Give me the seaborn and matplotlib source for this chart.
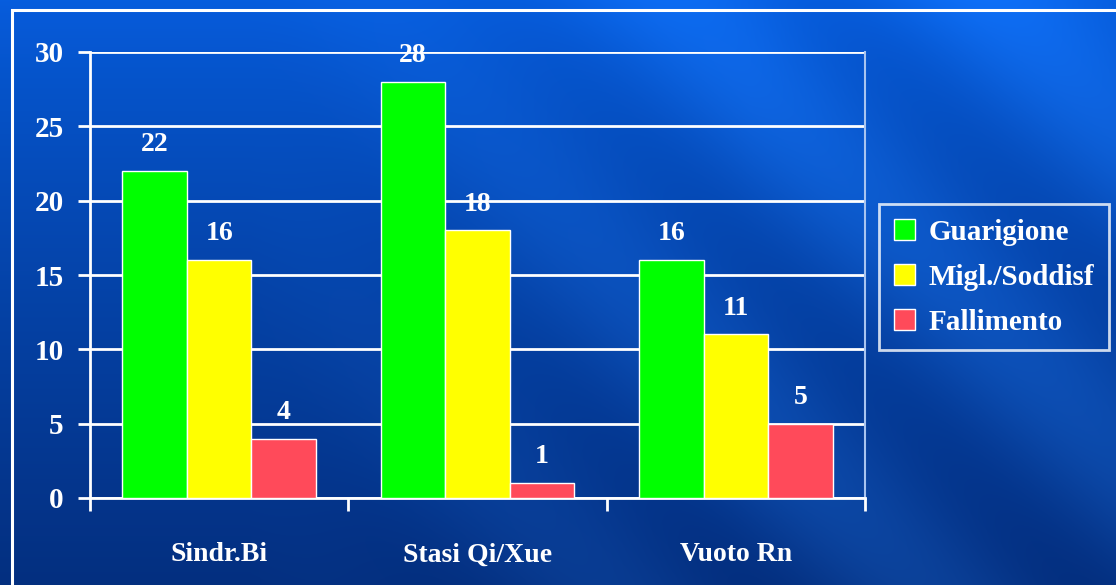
import numpy as np
import pandas as pd
import seaborn as sns
import matplotlib.pyplot as plt
import matplotlib.patches as patches

categories = ["Sindr.Bi", "Stasi Qi/Xue", "Vuoto Rn"]
series = ["Guarigione", "Migl./Soddisf", "Fallimento"]
guarigione = [22, 28, 16]
miglioramento = [16, 18, 11]
fallimento = [4, 1, 5]
y_ticks = [0, 5, 10, 15, 20, 25, 30]

colors = ["#00ff00", "#ffff00", "#ff4a5a"]
serif = "Liberation Serif"

df = pd.DataFrame({
    "cat": categories * 3,
    "serie": [series[0]] * 3 + [series[1]] * 3 + [series[2]] * 3,
    "val": guarigione + miglioramento + fallimento,
})

sns.set_style("white")
plt.rcParams["font.family"] = [serif, "DejaVu Serif"]

W, H = 1116, 585
fig = plt.figure(figsize=(W / 100, H / 100), dpi=100)

# background: blue gradient with soft diagonal bands
bg = fig.add_axes([0, 0, 1, 1])
yy, xx = np.mgrid[0:H, 0:W]
t = yy / H
band = 0.5 + 0.5 * np.cos(2 * np.pi * (xx - yy) / 330.0)
band = band * np.clip((xx - 250) / 500, 0, 1)
top = np.array([0.04, 0.40, 0.92])
bot = np.array([0.03, 0.22, 0.55])
img = top[None, None, :] * (1 - t[..., None] ** 0.8) + bot[None, None, :] * t[..., None] ** 0.8
img = img + (band[..., None] - 0.5) * 0.10 * np.array([0.3, 0.7, 1.0])
bg.imshow(np.clip(img, 0, 1), aspect="auto", extent=[0, 1, 0, 1], origin="upper")
bg.set_axis_off()

frame = patches.Rectangle((12 / W, -0.05), 1.2, 0.05 + 1 - 10 / H, transform=fig.transFigure,
                          fill=False, edgecolor="white", linewidth=2.2)
fig.patches.append(frame)

ax = fig.add_axes([90 / W, 1 - 498 / H, (865 - 90) / W, (498 - 52) / H])
ax.set_facecolor("none")

sns.barplot(data=df, x="cat", y="val", hue="serie", palette=colors, hue_order=series,
            order=categories, width=0.75, saturation=1, edgecolor="white", linewidth=1,
            ax=ax, legend=True, zorder=3)

for cont in ax.containers:
    ax.bar_label(cont, padding=10, color="white", fontsize=20, fontweight="bold", family=serif)

ax.set_ylim(0, 30)
ax.set_xlim(-0.5, 2.5)
ax.set_yticks(y_ticks)
ax.set_yticklabels([str(v) for v in y_ticks])
ax.yaxis.grid(True, color="white", linewidth=2, zorder=0)
ax.set_axisbelow(True)
ax.tick_params(axis="y", left=True, length=9, width=2, color="white", pad=10,
               labelcolor="white", labelsize=21)
for lab in ax.get_yticklabels():
    lab.set_fontweight("bold")
ax.tick_params(axis="x", which="major", length=0, pad=32, labelcolor="white", labelsize=20)
for lab in ax.get_xticklabels():
    lab.set_fontweight("bold")
ax.set_xticks([-0.5, 0.5, 1.5, 2.5], minor=True)
ax.tick_params(axis="x", which="minor", bottom=True, length=9, width=2, color="white")
ax.set_xlabel("")
ax.set_ylabel("")

for side in ["left", "bottom"]:
    ax.spines[side].set_color("white")
    ax.spines[side].set_linewidth(2)
ax.spines["right"].set_color("#a8c4f0")
ax.spines["right"].set_linewidth(1.5)
ax.spines["top"].set_visible(False)

handles, labels = ax.get_legend_handles_labels()
ax.get_legend().remove()
leg = fig.legend(handles, labels, loc="upper left", bbox_to_anchor=(879 / W, 1 - 204 / H),
                 frameon=True, fancybox=False, facecolor="none", edgecolor="white",
                 handlelength=0.75, handleheight=0.75, handletextpad=0.45, labelspacing=0.62,
                 borderpad=0.5, borderaxespad=0,
                 prop={"family": serif, "weight": "bold", "size": 21})
leg.get_frame().set_linewidth(2)
for txt in leg.get_texts():
    txt.set_color("white")

fig.savefig("out.png", dpi=100)
